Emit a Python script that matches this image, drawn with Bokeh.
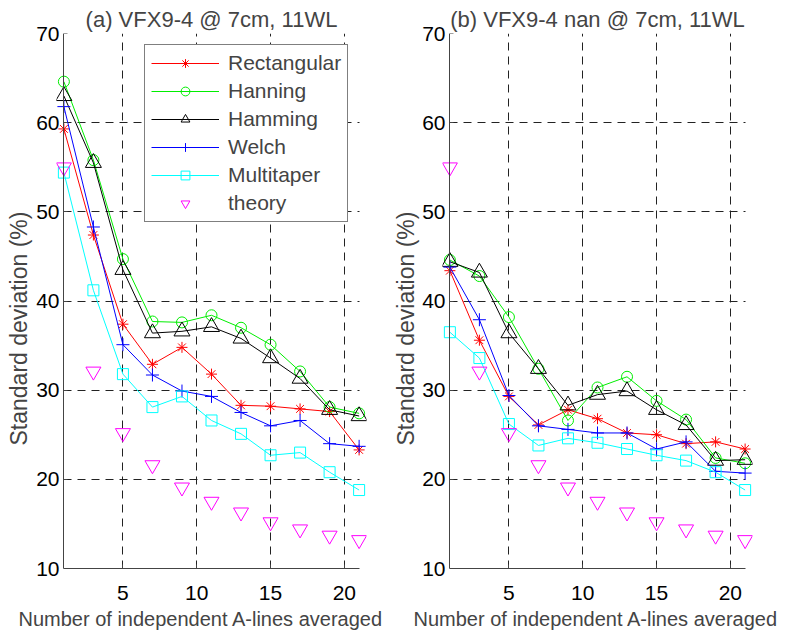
from bokeh.plotting import figure
from bokeh.models import (Range1d, FixedTicker, LinearAxis, Title, Legend, LegendItem,
                          CustomJSTickFormatter)
from bokeh.layouts import row
from bokeh.embed import file_html
from bokeh.resources import INLINE

# ---------------- data ----------------
n_lines = [1, 3, 5, 7, 9, 11, 13, 15, 17, 19, 21]
x_ticks = [5, 10, 15, 20]
y_ticks = [10, 20, 30, 40, 50, 60, 70]

titles = ["(a) VFX9-4 @ 7cm, 11WL", "(b) VFX9-4 nan @ 7cm, 11WL"]
x_label = "Number of independent A-lines averaged"
y_label = "Standard deviation (%)"
series_names = ["Rectangular", "Hanning", "Hamming", "Welch", "Multitaper", "theory"]

rect_a = [59.3, 47.4, 37.4, 32.9, 34.8, 31.8, 28.3, 28.2, 27.9, 27.6, 23.3]
hann_a = [64.6, 55.8, 44.7, 37.7, 37.6, 38.4, 37.0, 35.1, 32.1, 28.1, 27.4]
hamm_a = [63.0, 55.5, 43.5, 36.4, 36.6, 37.1, 35.8, 33.6, 31.3, 27.8, 27.1]
welch_a = [61.8, 48.3, 35.1, 31.7, 29.9, 29.3, 27.5, 26.0, 26.6, 24.0, 23.7]
multi_a = [54.4, 41.2, 31.8, 28.1, 29.3, 26.6, 25.1, 22.7, 23.0, 20.8, 18.8]

rect_b = [43.4, 35.6, 29.3, 26.1, 27.8, 26.8, 25.2, 25.0, 24.0, 24.2, 23.4]
hann_b = [44.6, 42.8, 38.2, 32.4, 26.6, 30.3, 31.5, 28.8, 26.7, 22.4, 21.8]
hamm_b = [44.4, 43.2, 36.4, 32.4, 28.3, 29.5, 29.9, 27.8, 26.1, 22.1, 22.2]
welch_b = [43.8, 37.9, 29.4, 26.0, 25.6, 25.2, 25.2, 23.4, 24.2, 20.9, 20.7]
multi_b = [36.5, 33.6, 26.2, 23.8, 24.6, 24.1, 23.4, 22.7, 22.1, 20.8, 18.8]

theory = [55.0, 32.1, 25.2, 21.6, 19.1, 17.5, 16.3, 15.2, 14.4, 13.7, 13.2]

# ---------------- style ----------------
FONT = "Liberation Sans"
COLORS = ["#ff0000", "#00ee00", "#000000", "#0000ff", "#00ffff", "#ff00ff"]
MARKERS = ["asterisk", "circle", "triangle", "cross", "square", "inverted_triangle"]
SIZES = [11, 11, 16, 13, 11, 15]
AXIS_COLOR = "#444444"


def build(title, series, width, bl, br, ylab_standoff, xlab_offset, with_legend):
    p = figure(width=width, height=632,
               x_range=Range1d(0.5, 21.5), y_range=Range1d(10, 70),
               output_backend="svg", toolbar_location=None,
               min_border_left=bl, min_border_right=br,
               min_border_top=33, min_border_bottom=64)
    p.outline_line_color = None
    p.background_fill_color = "white"
    p.border_fill_color = "white"

    p.title.text = title
    p.title.text_font = FONT
    p.title.text_font_size = "22px"
    p.title.text_font_style = "normal"
    p.title.align = "center"
    p.title.standoff = 0
    p.title.vertical_align = "top"

    xa = p.xaxis[0]
    xa.ticker = FixedTicker(ticks=x_ticks)
    xa.bounds = (1, 21)
    ya = p.yaxis[0]
    ya.ticker = FixedTicker(ticks=y_ticks)
    ya.fixed_location = 1
    ya.formatter = CustomJSTickFormatter(code="return ''")
    for ax in (xa, ya):
        ax.major_tick_in = 4
        ax.major_tick_out = 0
        ax.minor_tick_line_color = None
        ax.axis_line_color = AXIS_COLOR
        ax.major_tick_line_color = AXIS_COLOR
        ax.major_label_text_font = FONT
        ax.major_label_text_font_size = "21px"
        ax.major_label_text_color = "black"
    xa.major_label_standoff = 17

    # outer left axis: tick labels only (line and ticks drawn by the axis at x=1)
    sp = LinearAxis(ticker=FixedTicker(ticks=y_ticks), axis_line_color=None,
                    major_tick_line_color=None, minor_tick_line_color=None,
                    major_tick_in=0, major_tick_out=0, major_label_standoff=-3,
                    major_label_text_font=FONT, major_label_text_font_size="21px",
                    major_label_text_color="black")
    p.add_layout(sp, "left")

    # y label, placed along the left side
    p.add_layout(Title(text=y_label, align="left", offset=123,
                       text_font=FONT, text_font_size="23px",
                       text_font_style="normal", standoff=ylab_standoff,
                       vertical_align="bottom"), "left")

    # x label
    p.add_layout(Title(text=x_label, align="left", offset=xlab_offset,
                       text_font=FONT, text_font_size="20px",
                       text_font_style="normal", standoff=6,
                       vertical_align="bottom"), "below")

    for g in (p.xgrid[0], p.ygrid[0]):
        g.grid_line_color = "#222222"
        g.grid_line_dash = "8 6"
        g.grid_line_width = 1
    try:
        p.ygrid[0].cross_bounds = (1, 21)
    except Exception:
        pass

    items = []
    for i, ys in enumerate(series):
        l = p.line(n_lines, ys, line_color=COLORS[i], line_width=1)
        s = p.scatter(n_lines, ys, marker=MARKERS[i], size=SIZES[i],
                      line_color=COLORS[i], fill_color=None, line_width=1)
        items.append(LegendItem(label=series_names[i], renderers=[l, s]))
    t = p.scatter(n_lines, theory, marker=MARKERS[5], size=SIZES[5],
                  line_color=COLORS[5], fill_color=None, line_width=1)
    items.append(LegendItem(label=series_names[5], renderers=[t]))

    if with_legend:
        leg = Legend(items=items, location=(88, 346), margin=0,
                     label_text_font=FONT, label_text_font_size="21px",
                     glyph_width=68, glyph_height=22, label_height=22,
                     label_standoff=9, padding=6, spacing=4,
                     border_line_color="black", border_line_width=1,
                     background_fill_color="white", background_fill_alpha=1)
        p.add_layout(leg)
    return p


p1 = build(titles[0], [rect_a, hann_a, hamm_a, welch_a, multi_a],
           387, 56, 21, 4, -38, True)
p2 = build(titles[1], [rect_b, hann_b, hamm_b, welch_b, multi_b],
           403, 55, 38, 2, -29, False)

layout = row(p1, p2)
open("out.html", "w").write(file_html(layout, INLINE))
